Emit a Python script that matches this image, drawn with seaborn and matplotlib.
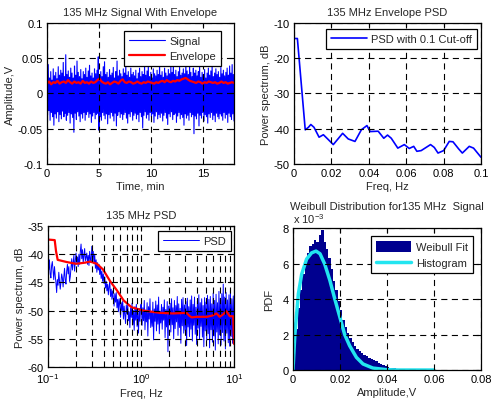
import numpy as np
import pandas as pd
import matplotlib
matplotlib.use("Agg")
import matplotlib.pyplot as plt
import seaborn as sns
from matplotlib.ticker import FixedLocator, FormatStrFormatter, LogLocator, NullFormatter

# ---- top left: 135 MHz signal (alternating positive / negative excursions) ----
sig_upper = [
    0.028, 0.041, 0.022, 0.031, 0.019, 0.035, 0.025, 0.030, 0.021, 0.038,
    0.026, 0.033, 0.029, 0.044, 0.024, 0.055, 0.027, 0.032, 0.023, 0.036,
    0.029, 0.022, 0.039, 0.026, 0.046, 0.030, 0.024, 0.034, 0.021, 0.031,
    0.027, 0.036, 0.023, 0.032, 0.040, 0.025, 0.029, 0.022, 0.035, 0.028,
    0.033, 0.052, 0.026, 0.031, 0.024, 0.038, 0.045, 0.027, 0.030, 0.023,
    0.034, 0.026, 0.029, 0.037, 0.022, 0.031, 0.046, 0.025, 0.033, 0.028,
    0.024, 0.035, 0.029, 0.041, 0.026, 0.031, 0.023, 0.036, 0.027, 0.030,
    0.025, 0.033, 0.021, 0.029, 0.036, 0.024, 0.031, 0.027, 0.039, 0.026,
    0.032, 0.041, 0.024, 0.030, 0.022, 0.035, 0.028, 0.025, 0.033, 0.027,
    0.043, 0.026, 0.031, 0.023, 0.036, 0.029, 0.025, 0.034, 0.028, 0.038,
    0.030, 0.046, 0.027, 0.033, 0.024, 0.031, 0.037, 0.026, 0.029, 0.035,
    0.028, 0.045, 0.032, 0.027, 0.041, 0.030, 0.024, 0.036, 0.029, 0.033,
    0.025, 0.031, 0.038, 0.023, 0.030, 0.027, 0.034, 0.022, 0.029, 0.036,
    0.026, 0.032, 0.041, 0.024, 0.029, 0.035, 0.027, 0.031, 0.023, 0.037,
    0.028, 0.033, 0.025, 0.030, 0.036, 0.026, 0.039, 0.029, 0.041, 0.027,
]
sig_lower = [
    -0.031, -0.024, -0.038, -0.027, -0.033, -0.045, -0.029, -0.035, -0.026, -0.040,
    -0.030, -0.036, -0.025, -0.033, -0.028, -0.038, -0.031, -0.027, -0.042, -0.029,
    -0.034, -0.055, -0.028, -0.037, -0.026, -0.032, -0.040, -0.029, -0.035, -0.027,
    -0.038, -0.030, -0.026, -0.034, -0.029, -0.041, -0.032, -0.027, -0.036, -0.030,
    -0.028, -0.052, -0.033, -0.038, -0.027, -0.031, -0.036, -0.029, -0.043, -0.030,
    -0.035, -0.027, -0.032, -0.039, -0.028, -0.046, -0.031, -0.026, -0.034, -0.029,
    -0.037, -0.030, -0.027, -0.035, -0.042, -0.029, -0.033, -0.026, -0.038, -0.031,
    -0.028, -0.036, -0.030, -0.040, -0.027, -0.033, -0.049, -0.031, -0.026, -0.035,
    -0.030, -0.038, -0.027, -0.033, -0.029, -0.041, -0.032, -0.026, -0.036, -0.030,
    -0.034, -0.028, -0.039, -0.031, -0.027, -0.035, -0.044, -0.029, -0.033, -0.026,
    -0.037, -0.030, -0.028, -0.041, -0.032, -0.027, -0.036, -0.030, -0.034, -0.045,
    -0.029, -0.035, -0.031, -0.038, -0.027, -0.033, -0.030, -0.057, -0.032, -0.036,
    -0.028, -0.046, -0.031, -0.035, -0.027, -0.039, -0.030, -0.033, -0.042, -0.029,
    -0.034, -0.027, -0.037, -0.031, -0.040, -0.028, -0.033, -0.036, -0.029, -0.032,
    -0.038, -0.027, -0.035, -0.030, -0.041, -0.028, -0.033, -0.037, -0.029, -0.039,
]
envelope = [
    0.014, 0.017, 0.013, 0.016, 0.015, 0.018, 0.014, 0.016, 0.017, 0.015,
    0.019, 0.016, 0.014, 0.017, 0.015, 0.016, 0.014, 0.018, 0.015, 0.016,
    0.014, 0.017, 0.015, 0.016, 0.019, 0.021, 0.017, 0.015, 0.014, 0.016,
    0.013, 0.015, 0.017, 0.016, 0.014, 0.018, 0.020, 0.016, 0.015, 0.017,
    0.016, 0.014, 0.015, 0.017, 0.015, 0.014, 0.016, 0.015, 0.017, 0.016,
    0.015, 0.014, 0.016, 0.015, 0.017, 0.018, 0.016, 0.019, 0.017, 0.016,
    0.018, 0.017, 0.019, 0.018, 0.020, 0.021, 0.022, 0.020, 0.018, 0.017,
    0.016, 0.015, 0.017, 0.016, 0.014, 0.016, 0.015, 0.017, 0.016, 0.015,
    0.016, 0.014, 0.015, 0.017, 0.015, 0.016, 0.014, 0.015, 0.016, 0.015,
]

# ---- top right: envelope PSD ----
env_freq = [0, 0.0018, 0.006, 0.0077, 0.009, 0.0107, 0.0134, 0.0157, 0.018, 0.021,
            0.026, 0.029, 0.0326, 0.036, 0.039, 0.0407, 0.045, 0.048, 0.050, 0.052,
            0.0555, 0.059, 0.0616, 0.064, 0.0657, 0.068, 0.073, 0.075, 0.077, 0.080,
            0.083, 0.085, 0.088, 0.090, 0.0937, 0.096, 0.1]
env_psd = [-14.4, -14.4, -40.3, -39.6, -38.8, -39.6, -42.4, -41.7, -42.9, -44.5,
           -41.3, -42.9, -43.6, -40.3, -39.1, -40.8, -40.7, -42.7, -41.8, -42.7,
           -45.5, -44.5, -45.6, -45.0, -46.4, -46.2, -44.5, -45.3, -46.9, -46.2,
           -43.6, -43.7, -45.7, -46.9, -45.0, -45.5, -48.1]

# ---- bottom left: signal PSD (log-spaced samples 0.1..10 Hz) and smoothed PSD ----
psd_db = [
    -41.5, -42.8, -41.0, -43.5, -44.2, -42.0, -41.3, -43.0, -44.5, -42.2, -43.8,
    -45.0, -46.8, -44.5, -45.5, -43.2, -44.8, -46.2, -45.0, -43.5, -44.2,
    -45.8, -44.0, -42.5, -44.6, -45.3, -43.0, -41.8, -43.5, -42.2, -44.8,
    -44.0, -42.5, -40.8, -42.8, -41.5, -40.2, -43.0, -41.2, -39.8, -41.5,
    -40.5, -42.2, -40.0, -41.8, -39.5, -38.2, -40.8, -39.2, -41.5, -40.3,
    -39.0, -41.2, -40.5, -39.8, -41.8, -40.2, -42.0, -39.5, -40.8, -41.5,
    -38.6, -40.4, -39.5, -41.7, -40.0, -42.5, -41.0, -43.2, -41.5, -42.8,
    -41.8, -43.6, -42.4, -44.3, -43.0, -44.8, -43.5,
    -45.2, -44.0, -46.0, -44.8, -46.5, -45.3, -47.2, -45.8, -44.9, -47.5,
    -46.2, -48.0, -46.5, -47.8, -49.2, -47.0, -48.5, -46.8, -49.5, -48.0,
    -50.2, -47.9, -49.0, -51.2, -48.6, -50.0, -48.3, -51.5, -49.2, -50.8,
    -52.3, -49.0, -50.5, -48.8, -51.8, -50.2, -53.0, -49.5, -51.2, -48.7,
    -52.5, -50.0, -53.5, -49.3, -51.7, -48.9, -52.8, -50.4, -54.0, -49.6,
    -51.9, -49.0,
    -48.8, -52.6, -49.5, -51.8, -48.2, -53.4, -49.9, -52.0, -48.6, -54.5,
    -49.3, -51.5, -47.9, -53.0, -50.2, -52.8, -48.5, -55.2, -49.7, -51.9,
    -48.3, -53.6, -49.0, -52.4, -47.6, -54.1, -50.1, -52.2, -48.9, -53.3,
    -49.4, -51.7, -48.1, -54.8, -49.8, -52.9, -48.4, -57.3, -49.2,
    -52.1, -48.7, -53.8, -47.9, -52.5, -49.5, -55.0, -48.2, -53.2, -49.1,
    -52.0, -47.5, -54.4, -48.8, -53.0, -49.6, -55.8, -48.0, -52.7, -47.7,
    -54.0, -49.0, -53.5, -48.4, -56.2, -47.8, -52.9, -49.3, -54.6, -48.1,
    -53.3, -47.4, -55.4, -48.9, -52.6, -47.6, -54.2, -49.4, -56.0, -48.3,
    -53.1, -47.2, -55.1, -48.6, -52.8, -47.9, -54.7, -49.1, -56.4, -47.7,
    -53.6, -48.5,
    -55.3, -47.3, -54.1, -48.0, -56.6, -47.5, -53.4, -48.8, -55.6, -46.9,
    -54.5, -48.2, -57.0, -47.1, -53.8, -48.6, -55.9, -46.6, -54.3, -47.8,
    -56.1, -47.0, -53.9, -45.3, -55.4, -47.6, -56.8, -46.8, -54.0, -48.1,
    -55.7, -47.2, -56.3, -46.5, -54.6, -47.9, -55.8, -47.4, -54.9,
]
smooth_freq = [0.1, 0.118, 0.122, 0.127, 0.16, 0.2, 0.25, 0.284, 0.335, 0.39,
               0.466, 0.55, 0.65, 0.79, 1.06, 1.6, 2.2, 3.1, 3.3, 3.5,
               4.0, 5.1, 5.8, 6.5, 7.0, 7.6, 8.3, 9.0, 9.8, 10.0]
smooth_psd = [-37.4, -37.5, -39.5, -41.0, -41.4, -41.7, -41.5, -41.3, -41.7, -42.7,
              -44.8, -46.4, -48.2, -49.4, -50.0, -50.4, -50.5, -50.4, -50.9, -51.2,
              -51.1, -51.1, -50.9, -50.5, -51.1, -50.7, -50.1, -51.0, -51.0, -55.9]

# ---- bottom right: amplitude histogram (x 1e-3) and Weibull curve ----
hist_centers = [0.0005 + 0.001 * i for i in range(60)]
hist_pdf = [1.0, 2.3, 3.5, 4.5, 5.4, 6.1, 6.6, 7.0, 7.1, 7.3,
            7.2, 7.6, 7.9, 7.2, 6.8, 6.3, 5.7, 5.0, 4.5, 3.9,
            3.4, 2.8, 2.4, 2.1, 1.8, 1.55, 1.35, 1.2, 1.05, 0.95,
            0.85, 0.78, 0.7, 0.62, 0.55, 0.5, 0.42, 0.35, 0.3, 0.22,
            0.18, 0.14, 0.12, 0.1, 0.08, 0.07, 0.05, 0.04, 0.03, 0.03,
            0.02, 0.02, 0.01, 0.01, 0.01, 0.01, 0.0, 0.01, 0.0, 0.0]
fit_amp = [0.0, 0.0008, 0.0023, 0.0037, 0.0058, 0.0079, 0.0098, 0.0115, 0.0135, 0.0157,
           0.0178, 0.0199, 0.022, 0.0241, 0.027, 0.0298, 0.034, 0.0397, 0.045, 0.06]
fit_pdf = [0.0, 2.0, 4.3, 5.4, 6.25, 6.6, 6.7, 6.55, 5.97, 5.05,
           4.0, 3.0, 2.0, 1.37, 0.71, 0.34, 0.11, 0.02, 0.0, 0.0]

sns.set_style("white")
plt.rcParams["font.family"] = ["Liberation Sans", "DejaVu Sans"]
plt.rcParams["font.size"] = 8
plt.rcParams["axes.unicode_minus"] = False
plt.rcParams["mathtext.fontset"] = "custom"
plt.rcParams["mathtext.rm"] = "Liberation Sans"
plt.rcParams["mathtext.it"] = "Liberation Sans"

GRID = dict(color="k", linestyle=(0, (5.5, 4)), linewidth=0.8)


def style(ax, which="major"):
    for sp in ax.spines.values():
        sp.set_color("k")
        sp.set_linewidth(0.9)
    ax.tick_params(which="both", direction="in", top=True, right=True,
                   colors="k", labelsize=8, pad=3)
    ax.tick_params(which="major", length=3.5, width=0.8)
    ax.tick_params(which="minor", length=2, width=0.6)
    ax.grid(True, which=which, **GRID)
    ax.set_axisbelow(False)


def legend(ax, anchor, reverse=False, hh=0.7):
    handles, labels = ax.get_legend_handles_labels()
    if reverse:
        handles, labels = handles[::-1], labels[::-1]
    leg = ax.legend(handles, labels, loc="upper right", bbox_to_anchor=anchor,
                    fancybox=False, framealpha=1, edgecolor="k", fontsize=8,
                    handlelength=3.2, handleheight=hh, handletextpad=0.4,
                    borderpad=0.45, labelspacing=0.45, borderaxespad=0)
    leg.get_frame().set_linewidth(0.9)
    leg.set_zorder(10)
    return leg


fig = plt.figure(figsize=(4.91, 4.02), dpi=100)
ax1 = fig.add_axes([0.0957, 0.5896, 0.3809, 0.3507])
ax2 = fig.add_axes([0.5988, 0.5896, 0.3809, 0.3507])
ax3 = fig.add_axes([0.0978, 0.0846, 0.3788, 0.3507])
ax4 = fig.add_axes([0.5967, 0.0771, 0.3829, 0.3532])

# 1 - signal with envelope
signal = [v for pair in zip(sig_upper, sig_lower) for v in pair]
df_sig = pd.DataFrame({"t": np.linspace(0, 18, len(signal)), "v": signal})
df_env = pd.DataFrame({"t": np.linspace(0, 18, len(envelope)), "v": envelope})
sns.lineplot(data=df_sig, x="t", y="v", ax=ax1, color="#0000ff", linewidth=0.8,
             estimator=None, sort=False, label="Signal")
sns.lineplot(data=df_env, x="t", y="v", ax=ax1, color="#ff0000", linewidth=1.6,
             estimator=None, sort=False, label="Envelope")
ax1.set_xlim(0, 18)
ax1.set_ylim(-0.1, 0.1)
ax1.xaxis.set_major_locator(FixedLocator([0, 5, 10, 15]))
ax1.yaxis.set_major_locator(FixedLocator([-0.1, -0.05, 0, 0.05, 0.1]))
ax1.yaxis.set_major_formatter(FormatStrFormatter("%g"))
ax1.set_title("135 MHz Signal With Envelope", fontsize=8, pad=6)
ax1.set_xlabel("Time, min", fontsize=8, labelpad=2)
ax1.set_ylabel("Amplitude,V", fontsize=8, labelpad=2)
style(ax1)
legend(ax1, (0.93, 0.943))

# 2 - envelope PSD
df_epsd = pd.DataFrame({"f": env_freq, "p": env_psd})
sns.lineplot(data=df_epsd, x="f", y="p", ax=ax2, color="#0000ff", linewidth=1.2,
             estimator=None, sort=False, label="PSD with 0.1 Cut-off")
ax2.set_xlim(0, 0.1)
ax2.set_ylim(-50, -10)
ax2.xaxis.set_major_locator(FixedLocator([0, 0.02, 0.04, 0.06, 0.08, 0.1]))
ax2.xaxis.set_major_formatter(FormatStrFormatter("%g"))
ax2.yaxis.set_major_locator(FixedLocator([-50, -40, -30, -20, -10]))
ax2.set_title("135 MHz Envelope PSD", fontsize=8, pad=6)
ax2.set_xlabel("Freq, Hz", fontsize=8, labelpad=2)
ax2.set_ylabel("Power spectrum, dB", fontsize=8, labelpad=2)
style(ax2)
legend(ax2, (0.979, 0.957))

# 3 - signal PSD (log frequency)
df_psd = pd.DataFrame({"f": np.geomspace(0.1, 10, len(psd_db)), "p": psd_db})
df_smooth = pd.DataFrame({"f": smooth_freq, "p": smooth_psd})
sns.lineplot(data=df_psd, x="f", y="p", ax=ax3, color="#0000ff", linewidth=0.7,
             estimator=None, sort=False, label="PSD")
sns.lineplot(data=df_smooth, x="f", y="p", ax=ax3, color="#ff0000", linewidth=1.6,
             estimator=None, sort=False, legend=False)
ax3.set_xscale("log")
ax3.set_xlim(0.1, 10)
ax3.set_ylim(-60, -35)
ax3.xaxis.set_major_locator(LogLocator(base=10, numticks=5))
ax3.xaxis.set_minor_locator(LogLocator(base=10, subs=np.arange(2, 10), numticks=20))
ax3.xaxis.set_minor_formatter(NullFormatter())
ax3.yaxis.set_major_locator(FixedLocator([-60, -55, -50, -45, -40, -35]))
ax3.set_title("135 MHz PSD", fontsize=8, pad=6)
ax3.set_xlabel("Freq, Hz", fontsize=8, labelpad=2)
ax3.set_ylabel("Power spectrum, dB", fontsize=8, labelpad=2)
style(ax3, which="both")
legend(ax3, (0.984, 0.965))

# 4 - Weibull distribution
sns.histplot(x=hist_centers, weights=hist_pdf, binwidth=0.001, binrange=(0, 0.06),
             ax=ax4, color="#00008f", alpha=1, edgecolor="none", linewidth=0,
             label="Weibull Fit")
df_fit = pd.DataFrame({"a": fit_amp, "p": fit_pdf})
sns.lineplot(data=df_fit, x="a", y="p", ax=ax4, color="#22e5f0", linewidth=2.5,
             estimator=None, sort=False, label="Histogram")
ax4.set_xlim(0, 0.08)
ax4.set_ylim(0, 8)
ax4.xaxis.set_major_locator(FixedLocator([0, 0.02, 0.04, 0.06, 0.08]))
ax4.xaxis.set_major_formatter(FormatStrFormatter("%g"))
ax4.yaxis.set_major_locator(FixedLocator([0, 2, 4, 6, 8]))
ax4.set_title("Weibull Distribution for135 MHz  Signal", fontsize=8, pad=14)
ax4.text(0.0, 1.02, r"x 10$^{-3}$", transform=ax4.transAxes, fontsize=8,
         ha="left", va="bottom")
ax4.set_xlabel("Amplitude,V", fontsize=8, labelpad=2)
ax4.set_ylabel("PDF", fontsize=8, labelpad=6)
style(ax4)
legend(ax4, (0.957, 0.944), reverse=True, hh=1.1)

fig.savefig("out.png", dpi=100)
